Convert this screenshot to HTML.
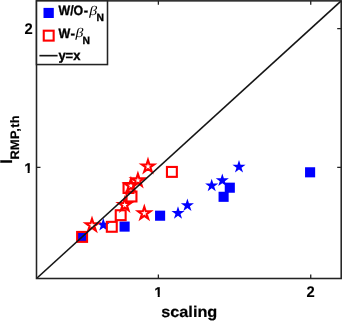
<!DOCTYPE html>
<html><head><meta charset="utf-8"><style>
html,body{margin:0;padding:0;background:#fff;width:342px;height:321px;overflow:hidden}
svg{display:block;will-change:transform}
text{text-rendering:geometricPrecision}
</style></head><body>
<svg width="342" height="321" viewBox="0 0 342 321">
<rect width="342" height="321" fill="#fff"/>
<defs><clipPath id="c1"><path d="M152.26,280.80H165.26V294.67H159.75V297.80H157.72V294.67H152.26Z"/></clipPath><clipPath id="c2"><path d="M22.17,156.90H35.17V170.77H29.65V173.90H27.62V170.77H22.17Z"/></clipPath></defs>
<path d="M158.38,278.50V274.50M158.38,0.85V4.85M36.50,167.44H40.50M341.20,167.44H337.20M310.73,278.50V274.50M310.73,0.85V4.85M36.50,28.62H40.50M341.20,28.62H337.20" stroke="#232323" stroke-width="1.3" fill="none"/>
<rect x="77.05" y="231.85" width="10.1" height="10.1" fill="#00f"/>
<rect x="119.55" y="221.55" width="10.1" height="10.1" fill="#00f"/>
<rect x="155.05" y="210.65" width="10.1" height="10.1" fill="#00f"/>
<rect x="218.55" y="191.75" width="10.1" height="10.1" fill="#00f"/>
<rect x="224.75" y="182.65" width="10.1" height="10.1" fill="#00f"/>
<rect x="305.05" y="167.25" width="10.1" height="10.1" fill="#00f"/>
<polygon points="103.30,218.10 104.85,222.87 109.86,222.87 105.81,225.81 107.36,230.58 103.30,227.64 99.24,230.58 100.79,225.81 96.74,222.87 101.75,222.87" fill="#00f"/>
<polygon points="178.00,206.30 179.55,211.07 184.56,211.07 180.51,214.01 182.06,218.78 178.00,215.84 173.94,218.78 175.49,214.01 171.44,211.07 176.45,211.07" fill="#00f"/>
<polygon points="187.40,198.50 188.95,203.27 193.96,203.27 189.91,206.21 191.46,210.98 187.40,208.04 183.34,210.98 184.89,206.21 180.84,203.27 185.85,203.27" fill="#00f"/>
<polygon points="211.70,178.70 213.25,183.47 218.26,183.47 214.21,186.41 215.76,191.18 211.70,188.24 207.64,191.18 209.19,186.41 205.14,183.47 210.15,183.47" fill="#00f"/>
<polygon points="222.30,173.60 223.85,178.37 228.86,178.37 224.81,181.31 226.36,186.08 222.30,183.14 218.24,186.08 219.79,181.31 215.74,178.37 220.75,178.37" fill="#00f"/>
<polygon points="239.00,160.00 240.55,164.77 245.56,164.77 241.51,167.71 243.06,172.48 239.00,169.54 234.94,172.48 236.49,167.71 232.44,164.77 237.45,164.77" fill="#00f"/>
<rect x="77.15" y="231.95" width="9.9" height="9.9" fill="none" stroke="#f00" stroke-width="2.1"/>
<rect x="106.85" y="221.85" width="9.9" height="9.9" fill="none" stroke="#f00" stroke-width="2.1"/>
<rect x="115.75" y="210.25" width="9.9" height="9.9" fill="none" stroke="#f00" stroke-width="2.1"/>
<rect x="123.55" y="183.05" width="9.9" height="9.9" fill="none" stroke="#f00" stroke-width="2.1"/>
<rect x="126.55" y="191.55" width="9.9" height="9.9" fill="none" stroke="#f00" stroke-width="2.1"/>
<rect x="166.95" y="166.95" width="9.9" height="9.9" fill="none" stroke="#f00" stroke-width="2.1"/>
<polygon points="92.00,218.80 93.46,223.29 98.18,223.29 94.36,226.07 95.82,230.56 92.00,227.78 88.18,230.56 89.64,226.07 85.82,223.29 90.54,223.29" fill="none" stroke="#f00" stroke-width="2.1" stroke-miterlimit="10"/>
<polygon points="124.70,198.50 126.16,202.99 130.88,202.99 127.06,205.77 128.52,210.26 124.70,207.48 120.88,210.26 122.34,205.77 118.52,202.99 123.24,202.99" fill="none" stroke="#f00" stroke-width="2.1" stroke-miterlimit="10"/>
<polygon points="130.90,179.10 132.36,183.59 137.08,183.59 133.26,186.37 134.72,190.86 130.90,188.08 127.08,190.86 128.54,186.37 124.72,183.59 129.44,183.59" fill="none" stroke="#f00" stroke-width="2.1" stroke-miterlimit="10"/>
<polygon points="137.90,173.90 139.36,178.39 144.08,178.39 140.26,181.17 141.72,185.66 137.90,182.88 134.08,185.66 135.54,181.17 131.72,178.39 136.44,178.39" fill="none" stroke="#f00" stroke-width="2.1" stroke-miterlimit="10"/>
<polygon points="148.00,160.00 149.46,164.49 154.18,164.49 150.36,167.27 151.82,171.76 148.00,168.98 144.18,171.76 145.64,167.27 141.82,164.49 146.54,164.49" fill="none" stroke="#f00" stroke-width="2.1" stroke-miterlimit="10"/>
<polygon points="144.30,206.80 145.76,211.29 150.48,211.29 146.66,214.07 148.12,218.56 144.30,215.78 140.48,218.56 141.94,214.07 138.12,211.29 142.84,211.29" fill="none" stroke="#f00" stroke-width="2.1" stroke-miterlimit="10"/>
<line x1="36.5" y1="278.5" x2="341.2" y2="0.85" stroke="#151515" stroke-width="1.65"/>
<rect x="36.5" y="0.85" width="304.70" height="277.65" fill="none" stroke="#232323" stroke-width="1.55"/>
<g clip-path="url(#c1)"><text transform="translate(154.26,296.80) scale(1.000,0.950)" font-family="'Liberation Sans', sans-serif" font-weight="bold" font-style="normal" font-size="14.8" fill="#000" stroke="#000" stroke-width="0.120">1</text></g>
<text transform="translate(306.61,296.80) scale(1.000,1.040)" font-family="'Liberation Sans', sans-serif" font-weight="bold" font-style="normal" font-size="14.8" fill="#000" stroke="#000" stroke-width="0.115">2</text>
<g clip-path="url(#c2)"><text transform="translate(24.17,172.90) scale(1.000,0.950)" font-family="'Liberation Sans', sans-serif" font-weight="bold" font-style="normal" font-size="14.8" fill="#000" stroke="#000" stroke-width="0.120">1</text></g>
<text transform="translate(24.57,34.00) scale(1.000,1.040)" font-family="'Liberation Sans', sans-serif" font-weight="bold" font-style="normal" font-size="14.8" fill="#000" stroke="#000" stroke-width="0.115">2</text>
<text transform="translate(161.17,317.20) scale(1.000,0.950)" font-family="'Liberation Sans', sans-serif" font-weight="bold" font-style="normal" font-size="16.3" fill="#000" stroke="#000" stroke-width="0.200" textLength="56.17" lengthAdjust="spacing">scaling</text>
<text transform="translate(11.70,163.80) rotate(-90) scale(1.000,1.040)" font-family="'Liberation Sans', sans-serif" font-weight="bold" font-style="normal" font-size="16.3" fill="#000" stroke="#000" stroke-width="0.192">I</text>
<text transform="translate(18.90,159.47) rotate(-90) scale(1.000,0.960)" font-family="'Liberation Sans', sans-serif" font-weight="bold" font-style="normal" font-size="12.8" fill="#000" stroke="#000" stroke-width="0.200" textLength="44.08" lengthAdjust="spacing">RMP,th</text>
<rect x="36.5" y="0.85" width="71.00" height="63.70" fill="#fff" stroke="#232323" stroke-width="1.55"/><rect x="43.5" y="7.9" width="10.3" height="10.1" fill="#00f"/><rect x="43.75" y="30.70" width="9.9" height="9.9" fill="none" stroke="#f00" stroke-width="2.1"/><line x1="39.4" y1="55.65" x2="57.6" y2="55.65" stroke="#151515" stroke-width="1.65"/>
<text transform="translate(58.50,14.80) scale(0.950,1.040)" font-family="'Liberation Sans', sans-serif" font-weight="bold" font-style="normal" font-size="13.0" fill="#000" stroke="#000" stroke-width="0.337" textLength="25.99" lengthAdjust="spacing">W/O</text>
<text transform="translate(83.79,14.80) scale(1.000,1.040)" font-family="'Liberation Sans', sans-serif" font-weight="bold" font-style="normal" font-size="13.0" fill="#000" stroke="#000" stroke-width="0.337">-</text>
<text transform="translate(58.50,37.60) scale(0.960,1.040)" font-family="'Liberation Sans', sans-serif" font-weight="bold" font-style="normal" font-size="13.0" fill="#000" stroke="#000" stroke-width="0.337">W</text>
<text transform="translate(70.58,37.60) scale(1.050,1.040)" font-family="'Liberation Sans', sans-serif" font-weight="bold" font-style="normal" font-size="13.0" fill="#000" stroke="#000" stroke-width="0.333">-</text>
<text transform="translate(58.40,60.30) scale(1.000,1.040)" font-family="'Liberation Sans', sans-serif" font-weight="bold" font-style="normal" font-size="13.0" fill="#000" stroke="#000" stroke-width="0.337" textLength="22.05" lengthAdjust="spacing">y=x</text>
<text transform="translate(96.40,21.20) scale(1.000,1.040)" font-family="'Liberation Sans', sans-serif" font-weight="bold" font-style="normal" font-size="10.3" fill="#000" stroke="#000" stroke-width="0.337">N</text>
<text transform="translate(82.60,43.80) scale(1.000,1.040)" font-family="'Liberation Sans', sans-serif" font-weight="bold" font-style="normal" font-size="10.3" fill="#000" stroke="#000" stroke-width="0.337">N</text>
<text transform="translate(89.35,14.70) scale(1.200,1.000)" font-family="'Liberation Serif', serif" font-weight="normal" font-style="italic" font-size="13.2" fill="#000">β</text>
<text transform="translate(75.50,37.20) scale(1.200,1.000)" font-family="'Liberation Serif', serif" font-weight="normal" font-style="italic" font-size="13.2" fill="#000">β</text>
</svg>
</body></html>
